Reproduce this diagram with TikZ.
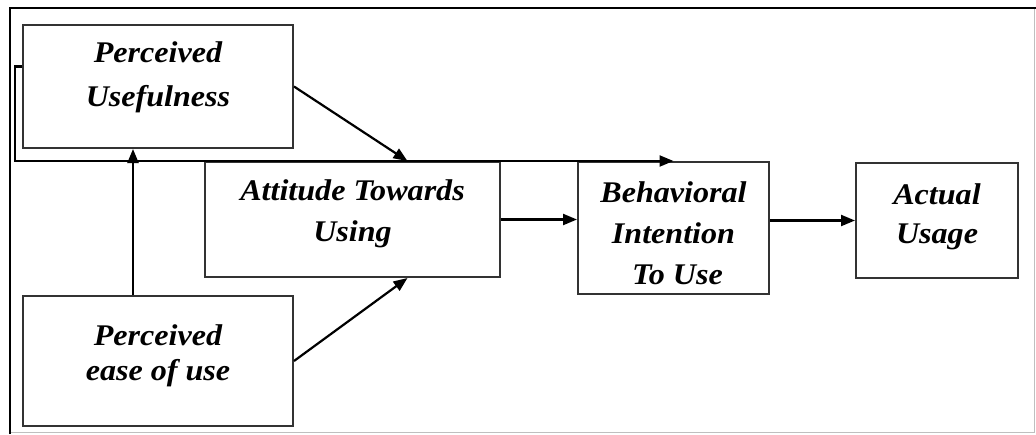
\documentclass[tikz,border=0pt]{standalone}
\usepackage{fontspec}
\setmainfont{Liberation Serif}[FakeStretch=1.07]
\usetikzlibrary{arrows.meta}
\tikzset{
    box/.style={draw=black!80,line width=2pt,align=center,inner sep=0pt,text height=60pt},
    lines/.style={font=\bfseries\itshape\fontsize{30}{#1}\selectfont},
    link/.style={line width=2.2pt,-{Triangle[length=14pt,width=11pt]}}
}
\begin{document}
\begin{tikzpicture}[x=1pt,y=-1pt]
        \useasboundingbox (0,0) rectangle (1036,434);
        %% frame
        \draw[black!25,line width=1pt] (10,432) -- (1034,432) -- (1034,8);
        \draw[line width=2pt] (10,434) -- (10,8) -- (1036,8);
        %% boxes
        \node[box,lines=44,text depth=19.6pt,minimum width=270,minimum height=123] (pu) at (158,86.5) {Perceived\\Usefulness};
        \node[box,lines=35,text depth=22pt,minimum width=270,minimum height=130] (peou) at (158,361) {Perceived\\ease of use};
        \node[box,lines=41,text depth=17pt,minimum width=295,minimum height=115] (att) at (352.5,219.5) {Attitude Towards\\Using};
        \node[box,lines=41,text height=120pt,text depth=8pt,minimum width=191,minimum height=132] (bi) at (673.5,228) {Behavioral\\Intention\\\ To Use};
        \node[box,lines=39,text depth=15pt,minimum width=162,minimum height=115] (au) at (937,220.5) {Actual\\Usage};
        %% arrows
        \draw[link] (pu.east) -- ([xshift=55pt]att.north);
        \draw[link] (peou.east) -- ([xshift=55pt]att.south);
        \draw[link] ([xshift=-25pt]peou.north) -- ([xshift=-25pt]pu.south);
        \draw[link] (att.east) -- (att.east -| bi.west);
        \draw[link] (au.west -| bi.east) -- (au.west);
        \draw[link] ([yshift=20pt]pu.west) -- ++(-7,0) |- (bi.north);
    \end{tikzpicture}
\end{document}
